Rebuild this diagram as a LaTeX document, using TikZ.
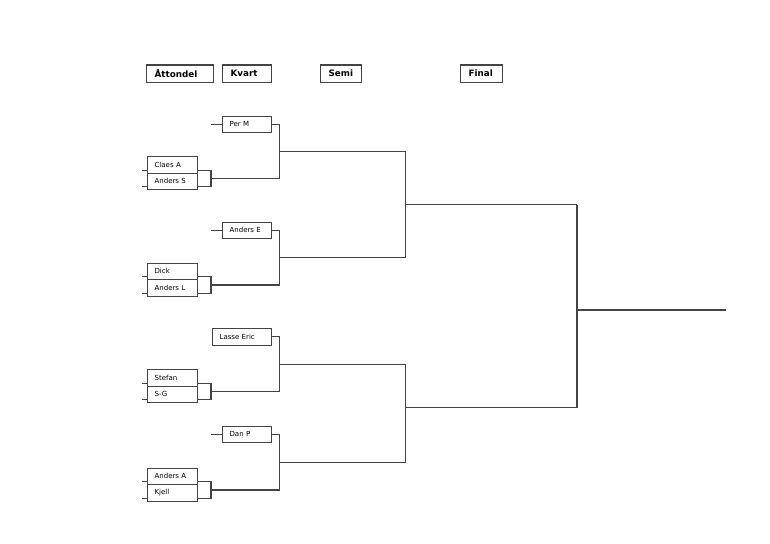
\documentclass[tikz,border=0pt]{standalone}
\usepackage{fontspec}
\setmainfont{DejaVu Sans}
\usetikzlibrary{calc}
\definecolor{lc}{RGB}{68,68,68}
\begin{document}
\begin{tikzpicture}[x=1pt,y=-1pt,
  ln/.style={draw=lc, line width=1.2pt},
  nm/.style={draw=lc, line width=1.2pt, inner xsep=7pt, inner ysep=0pt,
    minimum height=16.5pt, text width=#1, align=left, anchor=north west,
    font=\fontsize{7}{8}\selectfont},
  hd/.style={draw=lc, line width=1.2pt, inner xsep=8pt, inner ysep=0pt,
    minimum height=17.4pt, text width=#1, align=left, anchor=north west,
    font=\bfseries\fontsize{8.8}{10}\selectfont}]
\useasboundingbox (0,0) rectangle (770,543);

% headers
\node[hd=51pt] (hA) at (146,64.3) {Åttondel};
\node[hd=33pt] (hK) at (222,64.3) {Kvart};
\node[hd=25pt] (hS) at (320,64.3) {Semi};
\node[hd=26pt] (hF) at (460,64.3) {Final};

% column x positions
\coordinate (xP) at (211,0);
\coordinate (xQ) at (279.5,0);
\coordinate (xS) at (405.5,0);
\coordinate (xF) at (577,0);
\coordinate (xE) at (726,0);

% quarter singles
\node[nm=35pt] (PerM) at (222,115.5) {Per M};
\node[nm=35pt] (AndersE) at (222,221.5) {Anders E};
\node[nm=45pt] (LasseEric) at (212,328) {Lasse Eric};
\node[nm=35pt] (DanP) at (222,425.5) {Dan P};

% pairs
\node[nm=36pt] (ClaesA) at (147,156) {Claes A};
\node[nm=36pt] (AndersS) at (147,172.5) {Anders S};
\node[nm=36pt] (Dick) at (147,262.5) {Dick};
\node[nm=36pt] (AndersL) at (147,279) {Anders L};
\node[nm=36pt] (Stefan) at (147,369) {Stefan};
\node[nm=36pt] (SG) at (147,385.5) {S-G};
\node[nm=36pt] (AndersA) at (147,467.5) {Anders A};
\node[nm=36pt] (Kjell) at (147,484) {Kjell};

% lead ticks of singles
\draw[ln] (PerM.west) -- (PerM.west -| xP);
\draw[ln] (AndersE.west) -- (AndersE.west -| xP);
\draw[ln] (DanP.west) -- (DanP.west -| xP);

% pair brackets
\foreach \a/\b/\q/\g in {ClaesA/AndersS/PerM/1, Dick/AndersL/AndersE/2, Stefan/SG/LasseEric/3, AndersA/Kjell/DanP/4}{
  \coordinate (ea\g) at ([yshift=3.5pt]\a.south east);
  \coordinate (eb\g) at ([yshift=3.5pt]\b.south east);
  \draw[ln] ([yshift=3.5pt]\a.south west) -- ++(-5,0);
  \draw[ln] ([yshift=3.5pt]\b.south west) -- ++(-5,0);
  \draw[ln] (ea\g) -- (ea\g -| xP) -- (eb\g -| xP) -- (eb\g);
  \coordinate (m\g) at ($(ea\g -| xP)!0.5!(eb\g -| xP)$);
  \draw[ln] (m\g) -- (m\g -| xQ);
  \draw[ln] (\q.east) -- (\q.east -| xQ) -- (m\g -| xQ);
  \coordinate (q\g) at ($(\q.east -| xQ)!0.5!(m\g -| xQ)$);
  \draw[ln] (q\g) -- (q\g -| xS);
}

% semis
\draw[ln] (q1 -| xS) -- (q2 -| xS);
\coordinate (s1) at ($(q1 -| xS)!0.5!(q2 -| xS)$);
\draw[ln] (q3 -| xS) -- (q4 -| xS);
\coordinate (s2) at (405.5,407.5);
\draw[ln] (s1) -- (s1 -| xF);
\draw[ln] (s2) -- (s2 -| xF);

% final
\draw[ln] (s1 -| xF) -- (s2 -| xF);
\coordinate (fo) at (577,310);
\draw[ln] (fo) -- (fo -| xE);
\end{tikzpicture}
\end{document}
